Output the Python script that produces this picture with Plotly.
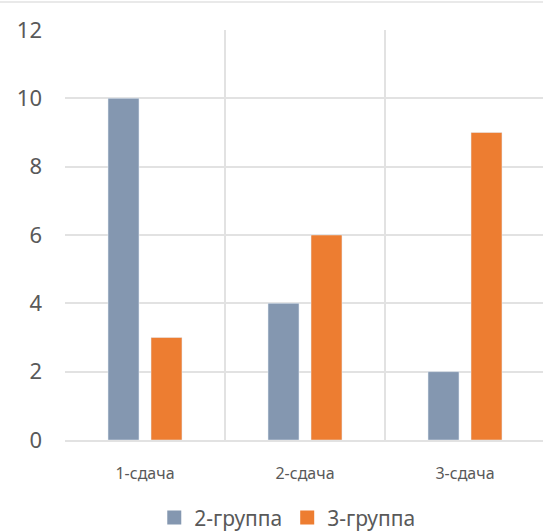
import plotly.graph_objects as go

categories = ["1-сдача", "2-сдача", "3-сдача"]
group2 = [10, 4, 2]
group3 = [3, 6, 9]
y_ticks = [0, 2, 4, 6, 8, 10, 12]
series_names = ["2-группа", "3-группа"]
series_colors = ["#8497B0", "#ED7D31"]

FONT = "Noto Sans"
GRID = "#E2E2E2"
TXT = "#595959"

fig = go.Figure()
for name, vals, col in zip(series_names, [group2, group3], series_colors):
    fig.add_trace(go.Bar(name=name, x=categories, y=vals, marker_color=col,
                         showlegend=False, legendgroup=name))
# legend entries with larger square symbols
for name, col in zip(series_names, series_colors):
    fig.add_trace(go.Scatter(name=name, x=[None], y=[None], mode="markers",
                             marker=dict(symbol="square", size=14, color=col),
                             legendgroup=name, showlegend=True))

fig.update_layout(
    width=543, height=532,
    margin=dict(l=65, r=0, t=30, b=92, autoexpand=False),
    paper_bgcolor="white", plot_bgcolor="white",
    barmode="group", bargap=0.4625, bargroupgap=0.28,
    font=dict(family=FONT, color=TXT),
    showlegend=True,
    legend=dict(orientation="h", x=0.465, xanchor="center", y=-0.19, yanchor="middle",
                font=dict(size=21, color=TXT, family=FONT), itemwidth=30, traceorder="normal"),
    xaxis=dict(type="category", range=[-0.5, 2.4875], tickson="boundaries", showgrid=True,
               gridcolor=GRID, gridwidth=1.5, ticks="", showline=True, linecolor=GRID, linewidth=1.5,
               tickfont=dict(size=16, color=TXT, family=FONT), ticklabelstandoff=18),
    yaxis=dict(range=[0, 12], tickvals=y_ticks, showgrid=True, gridcolor=GRID, gridwidth=1.5,
               zeroline=False, ticks="", tickfont=dict(size=22, color=TXT, family=FONT),
               ticklabelstandoff=22),
    shapes=[dict(type="line", xref="paper", yref="paper", x0=-0.2, x1=1.0,
                 y0=(440 - 2) / 410, y1=(440 - 2) / 410, line=dict(color=GRID, width=1.5))],
)

fig.write_html("out.html")
